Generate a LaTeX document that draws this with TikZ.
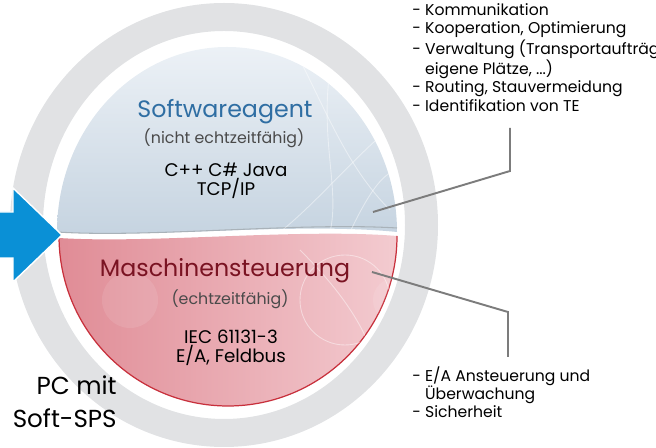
\documentclass[tikz,border=0pt]{standalone}
\usepackage{fontspec}
\setmainfont{Poppins}
\definecolor{ringgray}{HTML}{E1E2E4}
\definecolor{arrowblue}{HTML}{0A90D6}
\definecolor{bluetop}{HTML}{ECF1F6}
\definecolor{bluebot}{HTML}{C5D3E0}
\definecolor{pinkL}{HTML}{E08C96}
\definecolor{pinkR}{HTML}{F3CBD0}
\definecolor{redline}{HTML}{C8303C}
\definecolor{titleblue}{HTML}{2F6EA3}
\definecolor{titlered}{HTML}{7A1322}
\definecolor{subgray}{HTML}{4A4A4A}
\definecolor{leadgray}{HTML}{7C7C7C}
\begin{document}
\begin{tikzpicture}[x=0.02cm,y=-0.02cm,
  title/.style={inner sep=0pt, font=\fontsize{13.5}{15}\selectfont},
  subtitle/.style={inner sep=0pt, text=subgray, font=\fontsize{9}{10}\selectfont},
  body/.style={inner sep=0pt, align=center, text=black, font=\fontsize{10.4}{9.2}\selectfont},
  listtext/.style={inner sep=0pt, align=left, anchor=north west, text=black, font=\fontsize{8.9}{10.4}\selectfont},
  lead/.style={draw=leadgray, line width=1.1pt},
  deco/.style={draw=white, line width=0.5pt, opacity=0.45}]
\useasboundingbox (0,0) rectangle (656,448);
% grey ring
\fill[ringgray, even odd rule] (224,225) ellipse [x radius=214, y radius=222]
                               (224,225) ellipse [x radius=181, y radius=194];
% blue half
\path[top color=bluetop, bottom color=bluebot, draw=none]
  (57,232) arc[start angle=180, end angle=360, x radius=170, y radius=185]
  .. controls (300,222) and (150,238) .. (57,232) -- cycle;
\draw[draw=bluebot!60!gray, line width=0.6pt]
  (397,228) .. controls (300,222) and (150,238) .. (57,232);
% decorative faint lines (blue)
\begin{scope}
\clip (57,232) arc[start angle=180, end angle=360, x radius=170, y radius=185]
  .. controls (300,222) and (150,238) .. (57,232) -- cycle;
\draw[deco] (300,60) .. controls (330,120) and (350,170) .. (390,210);
\draw[deco] (330,70) .. controls (320,140) and (340,190) .. (330,232);
\draw[deco] (280,232) .. controls (320,200) and (360,150) .. (400,120);
\draw[deco] (350,232) .. controls (370,190) and (385,170) .. (400,170);
\end{scope}
% pink half
\path[left color=pinkL, right color=pinkR, draw=none]
  (59,238) .. controls (150,244) and (300,228) .. (397,236)
  arc[start angle=0, end angle=180, x radius=169, y radius=170] -- cycle;
\draw[draw=redline, line width=0.7pt]
  (397,236) arc[start angle=0, end angle=180, x radius=169, y radius=170];
\begin{scope}
\clip (59,238) .. controls (150,244) and (300,228) .. (397,236)
  arc[start angle=0, end angle=180, x radius=169, y radius=170] -- cycle;
\draw[deco] (345,300) circle[radius=45];
\draw[deco] (300,250) .. controls (340,290) and (370,330) .. (380,380);
\fill[white, opacity=0.1] (395,300) circle[radius=22];
\fill[white, opacity=0.1] (130,300) circle[radius=28];
\end{scope}
% blue arrow
\fill[arrowblue, draw=white, line width=0.8pt]
  (-2,212) -- (13,212) -- (13,188) -- (62,235) -- (13,282) -- (13,258) -- (-2,258) -- cycle;
% texts in the circle
\node[title, text=titleblue] (sw) at (225,112) {Softwareagent};
\node[subtitle] (swsub) at (224,138) {(nicht echtzeitfähig)};
\node[body] (swbody) at (226,181) {C++ C\# Java\\TCP/IP};
\node[title, text=titlered] (ms) at (225,271) {Maschinensteuerung};
\node[subtitle] (mssub) at (230,299) {(echtzeitfähig)};
\node[body] (msbody) at (231,348) {IEC 61131-3\\E/A, Feldbus};
\node[inner sep=0pt, align=right, anchor=east, font=\fontsize{14}{19}\selectfont] (pc) at (117,402) {PC mit\\Soft-SPS};
% lists
\node[listtext] (toplist) at (412,3) {- Kommunikation\\- Kooperation, Optimierung\\- Verwaltung (Transportaufträge\\\phantom{- }eigene Plätze, ...)\\- Routing, Stauvermeidung\\- Identifikation von TE};
\node[listtext] (botlist) at (412,366) {- E/A Ansteuerung und\\\phantom{- }Überwachung\\- Sicherheit};
% leaders
\coordinate (a1) at (373,212);
\coordinate (a2) at (510,171);
\coordinate (a3) at (510,128);
\coordinate (b1) at (372,272);
\coordinate (b2) at (508,312);
\coordinate (b3) at (508,357);
\draw[lead] (a1) -- (a2) -- (a3);
\draw[lead] (b1) -- (b2) -- (b3);
\end{tikzpicture}
\end{document}
